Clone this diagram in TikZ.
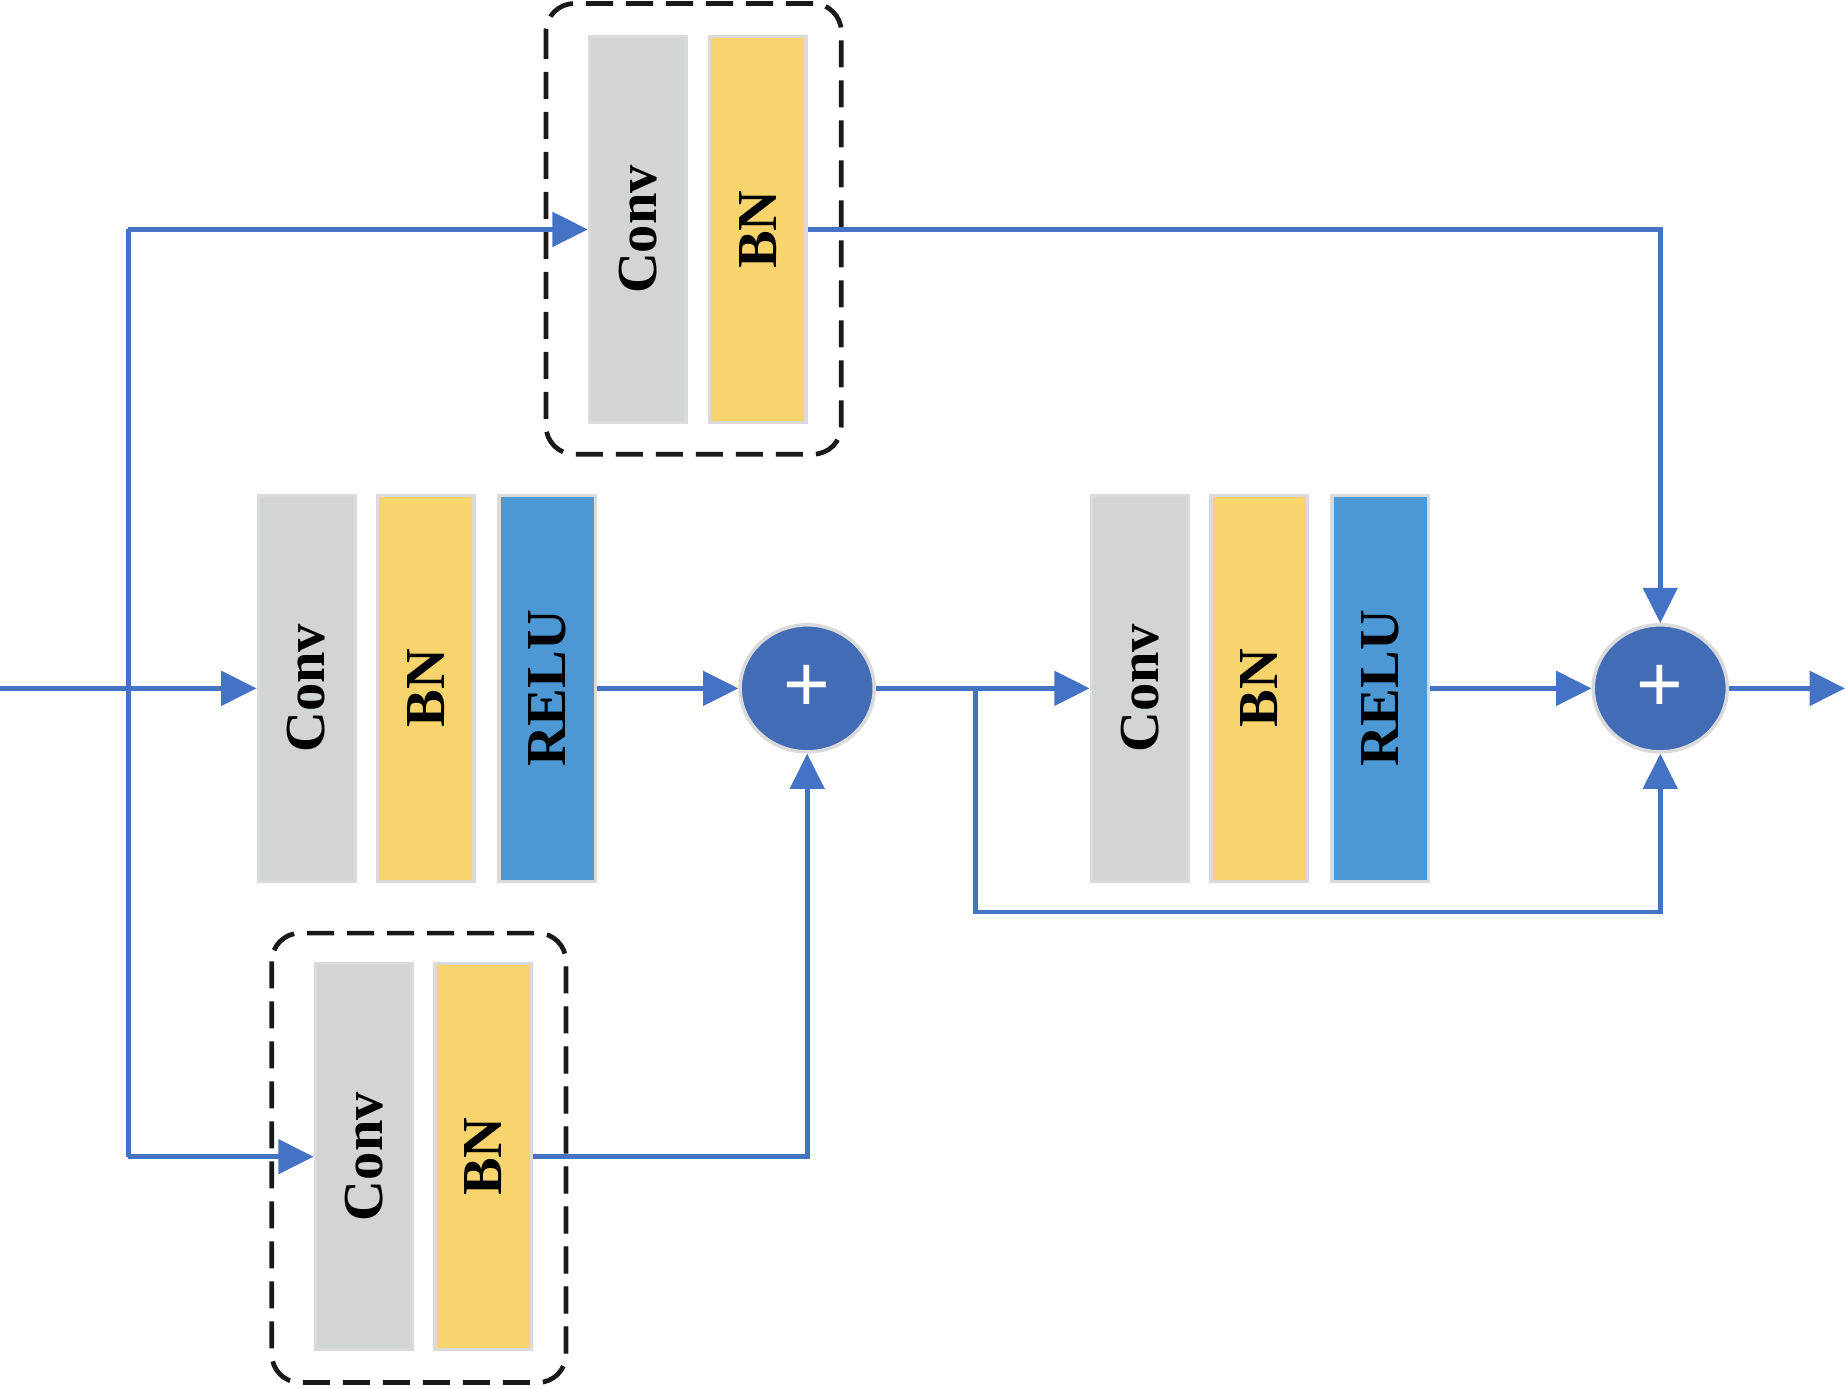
\documentclass[tikz,border=0pt]{standalone}
\usepackage{fontspec}
\setmainfont{Liberation Serif}
\newfontfamily\plusfont{Liberation Sans}
\usepackage{graphicx}
\usetikzlibrary{arrows.meta,shapes.geometric}
\definecolor{lineblue}{HTML}{4472C4}
\definecolor{circblue}{HTML}{426DB6}
\definecolor{boxgray}{HTML}{D3D4D4}
\definecolor{boxedge}{HTML}{DADADA}
\definecolor{bnyellow}{HTML}{F7D46C}
\definecolor{relublue}{HTML}{4B98D4}
\tikzset{
  layer/.style={draw=boxedge, line width=1.5pt, minimum width=41pt, minimum height=164pt, inner sep=0pt,
    font=\bfseries\fontsize{24}{29}\selectfont},
  convbox/.style={layer, fill=boxgray},
  bnbox/.style={layer, fill=bnyellow},
  relubox/.style={layer, fill=relublue},
  addnode/.style={ellipse, draw=boxedge, line width=1.5pt, fill=circblue, minimum width=57pt, minimum height=54pt,
    inner sep=0pt, text=white, font=\plusfont\fontsize{34}{36}\selectfont},
  grp/.style={draw=black!90, line width=2pt, dash pattern=on 11.5pt off 5.5pt, rounded corners=12pt},
  wire/.style={draw=lineblue, line width=2pt},
  arr/.style={wire, -{Triangle[length=15pt,width=14.5pt]}},
}
\begin{document}
\begin{tikzpicture}[x=0.5pt,y=-0.5pt]
\useasboundingbox (0,0) rectangle (1568,1179);
% dashed groups
\draw[grp] (464,3) rectangle (715,386);
\draw[grp] (231,793) rectangle (481,1175);
% top group
\node[convbox] (tconv) at (542,195) {\rotatebox{90}{Conv}};
\node[bnbox]   (tbn)   at (644,195) {\rotatebox{90}{BN}};
% middle row left
\node[convbox] (conv1) at (260.5,585) {\rotatebox{90}{Conv}};
\node[bnbox]   (bn1)   at (362,585) {\rotatebox{90}{BN}};
\node[relubox] (relu1) at (465,585) {\rotatebox{90}{RELU}};
% middle row right
\node[convbox] (conv2) at (968.5,585) {\rotatebox{90}{Conv}};
\node[bnbox]   (bn2)   at (1070,585) {\rotatebox{90}{BN}};
\node[relubox] (relu2) at (1173,585) {\rotatebox{90}{RELU}};
% bottom group
\node[convbox] (bconv) at (309,983) {\rotatebox{90}{Conv}};
\node[bnbox]   (bbn)   at (410.5,983) {\rotatebox{90}{BN}};
% adders
\node[addnode] (c1) at (686,585) {+};
\node[addnode] (c2) at (1411,585) {+};
% coordinates
\coordinate (in) at (0,585);
\coordinate (jt) at (109,195);
\coordinate (jb) at (109,983);
\coordinate (br) at (829,585);
\coordinate (lw) at (829,775);
\coordinate (out) at (1568,585);
% connectors
\draw[arr] (in) -- (conv1.west);
\draw[wire] (jt) -- (jb);
\draw[arr] (jt) -- (tconv.west);
\draw[arr] (jb) -- (bconv.west);
\draw[arr] (tbn.east) -| (c2.north);
\draw[arr] (bbn.east) -| (c1.south);
\draw[arr] (relu1.east) -- (c1.west);
\draw[arr] (c1.east) -- (conv2.west);
\draw[arr] (br) -- (lw) -| (c2.south);
\draw[arr] (relu2.east) -- (c2.west);
\draw[arr] (c2.east) -- (out);
\end{tikzpicture}
\end{document}
